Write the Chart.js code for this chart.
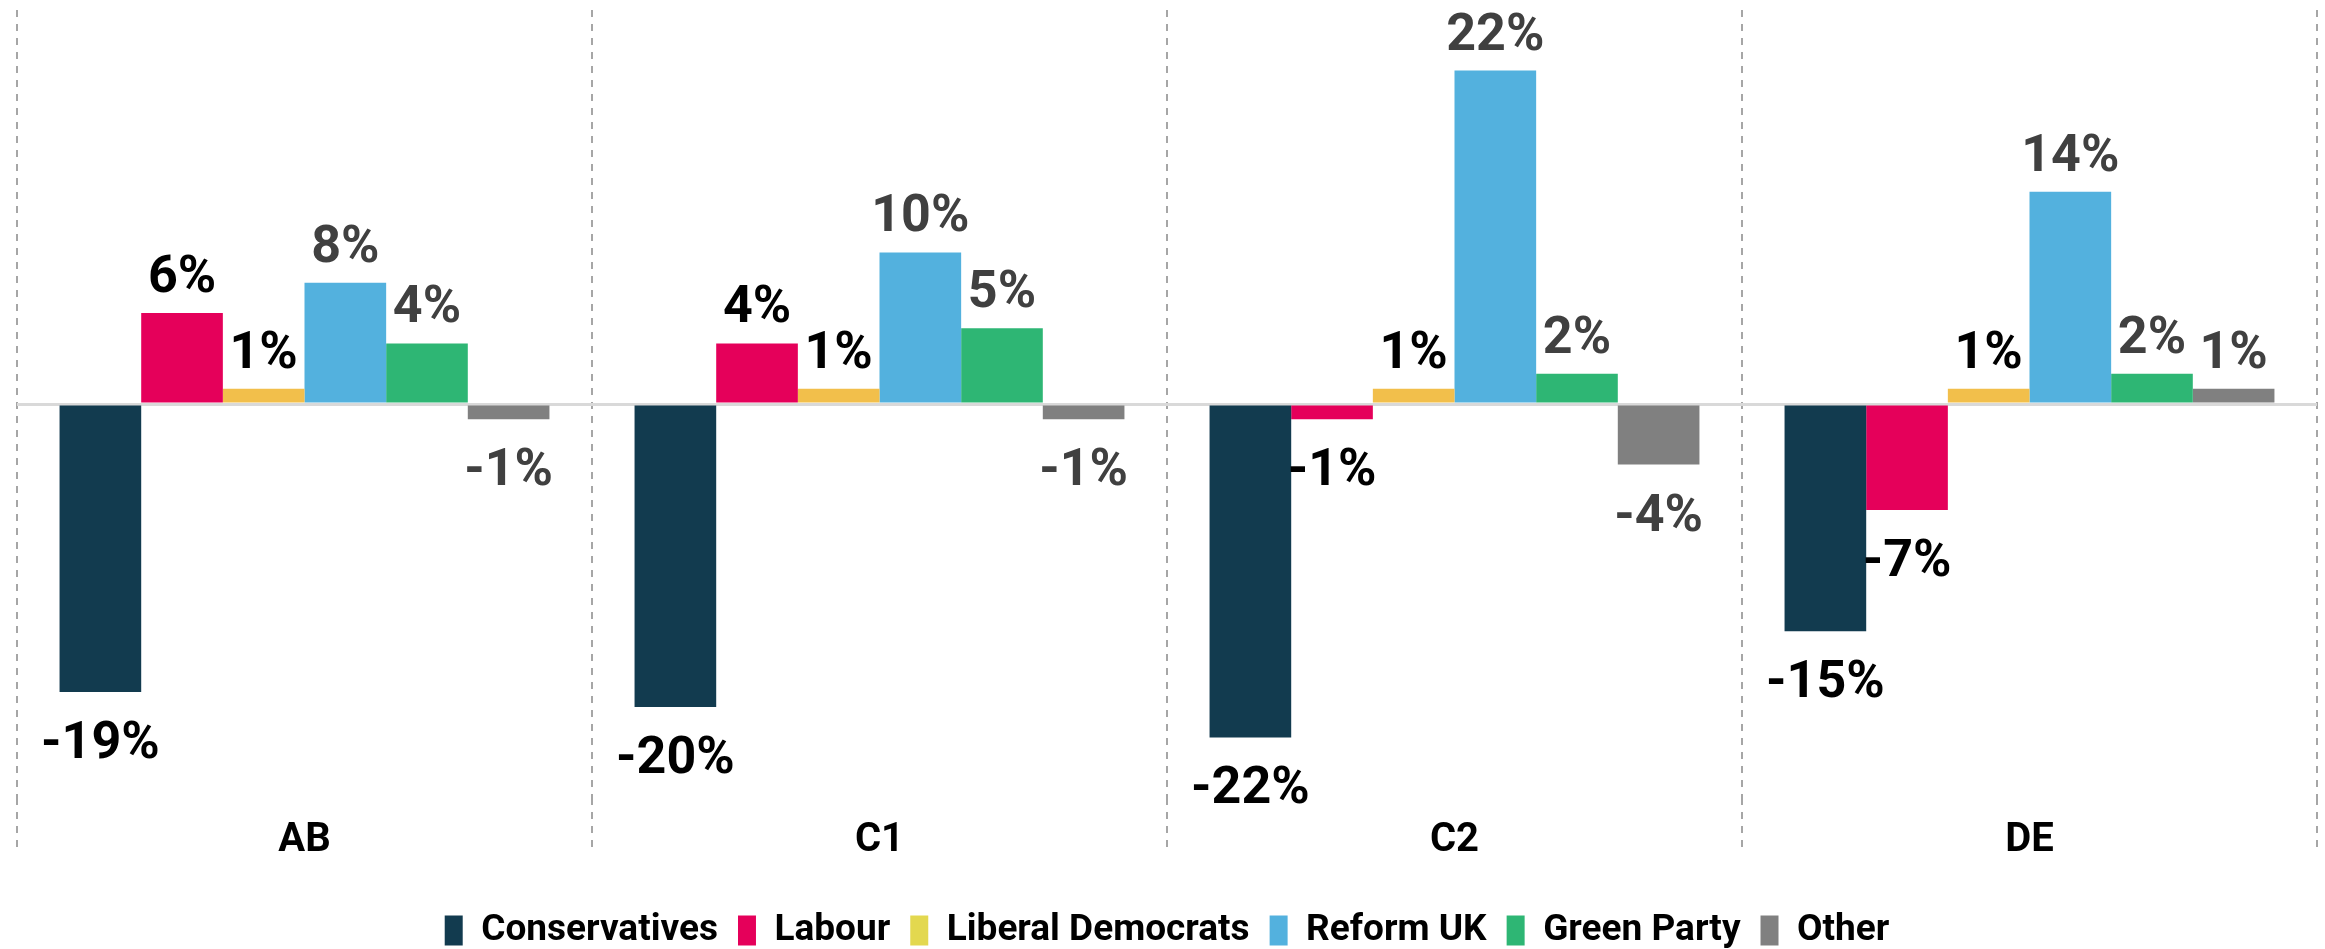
<!DOCTYPE html>
<html>
<head>
<meta charset="utf-8">
<script src="https://cdn.jsdelivr.net/npm/chart.js@4/dist/chart.umd.min.js"></script>
<style>
  html, body { margin: 0; padding: 0; background: #ffffff; }
  #wrap { width: 2325px; height: 949px; position: relative; }
</style>
</head>
<body>
<div id="wrap"><canvas id="c"></canvas></div>
<script>
const categories = ['AB', 'C1', 'C2', 'DE'];
const seriesNames = ['Conservatives', 'Labour', 'Liberal Democrats', 'Reform UK', 'Green Party', 'Other'];
const conservatives = [-19, -20, -22, -15];
const labour = [6, 4, -1, -7];
const libDems = [1, 1, 1, 1];
const reformUK = [8, 10, 22, 14];
const greenParty = [4, 5, 2, 2];
const other = [-1, -1, -4, 1];

const barColors = ['#123b4f', '#e5005a', '#f2bf4b', '#53b1de', '#2eb674', '#808080'];
const legendColors = ['#123b4f', '#e5005a', '#e3d84f', '#53b1de', '#2eb674', '#808080'];
const labelColors = ['#000000', '#000000', '#000000', '#404040', '#404040', '#404040'];
const FONT = 'Roboto, "Noto Sans", sans-serif';

const seriesValues = [conservatives, labour, libDems, reformUK, greenParty, other];

const valueLabels = {
  id: 'valueLabels',
  afterDatasetsDraw(chart) {
    const ctx = chart.ctx;
    chart.data.datasets.forEach((ds, i) => {
      const meta = chart.getDatasetMeta(i);
      meta.data.forEach((bar, j) => {
        const v = ds.data[j];
        ctx.save();
        ctx.font = 'bold 52px ' + FONT;
        ctx.fillStyle = labelColors[i];
        ctx.textAlign = 'center';
        ctx.textBaseline = 'alphabetic';
        const y = v >= 0 ? bar.y - 21 : bar.y + 66;
        ctx.fillText(v + '%', bar.x, y);
        ctx.restore();
      });
    });
  }
};

new Chart(document.getElementById('c'), {
  type: 'bar',
  data: {
    labels: categories,
    datasets: seriesNames.map((name, i) => ({
      label: name,
      data: seriesValues[i],
      backgroundColor: barColors[i],
      borderWidth: 0,
      categoryPercentage: 0.852,
      barPercentage: 1.0
    }))
  },
  options: {
    responsive: true,
    maintainAspectRatio: false,
    animation: false,
    layout: { padding: { left: 17, right: 8, top: 10, bottom: -10 } },
    plugins: {
      tooltip: { enabled: false },
      legend: {
        position: 'bottom',
        labels: {
          boxWidth: 18,
          boxHeight: 30,
          padding: 20,
          color: '#000000',
          font: { family: FONT, weight: 'bold', size: 37 },
          generateLabels(chart) {
            return chart.data.datasets.map((ds, i) => ({
              text: ds.label,
              fillStyle: legendColors[i],
              strokeStyle: legendColors[i],
              lineWidth: 0,
              hidden: false,
              datasetIndex: i,
              fontColor: '#000000'
            }));
          }
        }
      }
    },
    scales: {
      x: {
        afterFit(scale) { scale.height = 94; },
        grid: {
          offset: true,
          color: '#a6a6a6',
          lineWidth: 2,
          drawTicks: true,
          tickLength: 55,
          tickColor: '#a6a6a6',
          tickWidth: 2,
          tickBorderDash: [7, 7]
        },
        border: { display: false, dash: [7, 7] },
        ticks: {
          color: '#000000',
          padding: -62,
          font: { family: FONT, weight: 'bold', size: 40, lineHeight: 2.5 }
        }
      },
      y: {
        min: -26,
        max: 26,
        ticks: { display: false, stepSize: 2 },
        grid: {
          drawTicks: false,
          color: (c) => (c.tick && c.tick.value === 0 ? '#d9d9d9' : 'rgba(0,0,0,0)'),
          lineWidth: 3
        },
        border: { display: false }
      }
    }
  },
  plugins: [valueLabels]
});
</script>
</body>
</html>
